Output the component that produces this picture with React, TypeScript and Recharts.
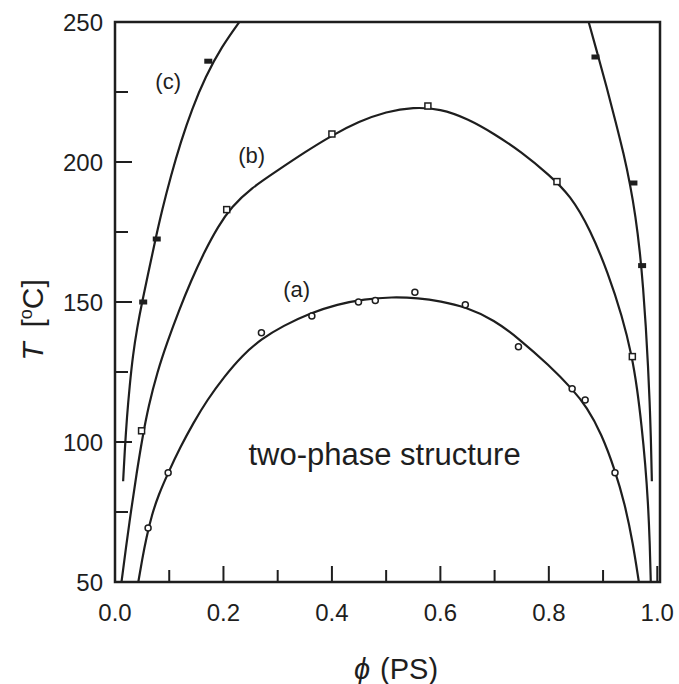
import React from 'react';
import { ComposedChart, Line, Scatter, XAxis, YAxis, ReferenceArea, ReferenceDot } from 'recharts';

// ---- axis ticks ----
const PHI_TICKS = [0, 0.1, 0.2, 0.3, 0.4, 0.5, 0.6, 0.7, 0.8, 0.9, 1.0];
const PHI_LABELED = [0, 0.2, 0.4, 0.6, 0.8, 1.0];
const T_TICKS = [50, 75, 100, 125, 150, 175, 200, 225, 250];
const T_LABELED = [50, 100, 150, 200, 250];

// ---- fitted curves [phi, T] ----
const CURVE_A: [number, number][] = [
  [0.043, 50], [0.05, 58], [0.058, 66], [0.068, 74], [0.08, 81], [0.098, 89], [0.12, 98],
  [0.145, 107], [0.17, 115], [0.2, 123], [0.235, 131], [0.27, 136.8], [0.31, 141.5],
  [0.36, 146], [0.41, 149.2], [0.46, 151], [0.51, 151.8], [0.56, 151.4], [0.6, 150.3],
  [0.646, 148.3], [0.7, 143.5], [0.744, 137], [0.8, 127.5], [0.843, 119], [0.87, 112.5],
  [0.897, 103], [0.922, 90], [0.94, 78], [0.955, 64], [0.966, 50],
];
const CURVE_B: [number, number][] = [
  [0.012, 50], [0.02, 62], [0.03, 76], [0.04, 89], [0.05, 101], [0.062, 113], [0.078, 125],
  [0.096, 135.5], [0.118, 147], [0.14, 157.5], [0.165, 168], [0.19, 177], [0.215, 184],
  [0.25, 190.5], [0.3, 197], [0.35, 203.5], [0.4, 209.5], [0.45, 214.5], [0.5, 218],
  [0.55, 219.6], [0.6, 219], [0.65, 215.5], [0.7, 210], [0.75, 203.5], [0.8, 195.5],
  [0.84, 188], [0.876, 176], [0.91, 160], [0.935, 145], [0.953, 131], [0.963, 119],
  [0.971, 106], [0.978, 92], [0.983, 78], [0.986, 65], [0.988, 50],
];
const CURVE_C_LEFT: [number, number][] = [
  [0.015, 86], [0.018, 97], [0.022, 109], [0.027, 120], [0.033, 131], [0.041, 141],
  [0.05, 150], [0.061, 160], [0.073, 171], [0.087, 183], [0.103, 195], [0.121, 207],
  [0.142, 219], [0.167, 230.5], [0.196, 241], [0.233, 251],
];
const CURVE_C_RIGHT: [number, number][] = [
  [0.872, 251], [0.89, 238.5], [0.907, 226.5], [0.923, 214.5], [0.938, 203], [0.95, 192],
  [0.96, 180.5], [0.968, 168], [0.974, 155], [0.979, 141], [0.983, 127], [0.986, 114],
  [0.988, 103], [0.99, 86],
];

// ---- measured points [phi, T] ----
const POINTS_A: [number, number][] = [
  [0.061, 69.3], [0.098, 89], [0.27, 139], [0.363, 145], [0.449, 150], [0.48, 150.5],
  [0.553, 153.5], [0.646, 149], [0.744, 134], [0.843, 119], [0.867, 115], [0.922, 89],
];
const POINTS_B: [number, number][] = [
  [0.049, 104], [0.206, 183], [0.4, 210], [0.577, 220], [0.815, 193], [0.954, 130.5],
];
const POINTS_C: [number, number][] = [
  [0.052, 150], [0.077, 172.5], [0.172, 236], [0.886, 237.5], [0.956, 192.5], [0.972, 163],
];

// ---- annotations ----
const ANNOTATIONS: { text: string; phi: number; T: number; size: number }[] = [
  { text: '(c)', phi: 0.098, T: 228.6, size: 22 },
  { text: '(b)', phi: 0.252, T: 202.5, size: 22 },
  { text: '(a)', phi: 0.335, T: 154.3, size: 22 },
  { text: 'two-phase structure', phi: 0.497, T: 95.5, size: 31 },
];

const toXY = (arr: [number, number][]) => arr.map(([x, y]) => ({ x, y }));

const INK = '#1e1e1e';
const FONT = '"Liberation Sans", Arial, Helvetica, sans-serif';

const isIn = (list: number[], v: number) => list.some((m) => Math.abs(m - v) < 1e-9);

const XTick = (props: any) => {
  const { x, y, payload } = props;
  const v = payload.value as number;
  const major = isIn(PHI_LABELED, v);
  return (
    <g>
      <line x1={x} x2={x} y1={y} y2={y - (major ? 16 : 12)} stroke={INK} strokeWidth={2} />
      {major && (
        <text x={x} y={y + 39} textAnchor="middle" fontSize={24} fill={INK} fontFamily={FONT}>
          {v.toFixed(1)}
        </text>
      )}
    </g>
  );
};

const YTick = (props: any) => {
  const { x, y, payload } = props;
  const v = payload.value as number;
  const major = isIn(T_LABELED, v);
  return (
    <g>
      <line x1={x} x2={x + (major ? 17 : 13)} y1={y} y2={y} stroke={INK} strokeWidth={2} />
      {major && (
        <text x={x - 12} y={y + 8.5} textAnchor="end" fontSize={24} fill={INK} fontFamily={FONT}>
          {v}
        </text>
      )}
    </g>
  );
};

const CircleMark = (p: any) => (
  <circle cx={p.cx} cy={p.cy} r={3} fill="#fff" stroke={INK} strokeWidth={1.5} />
);
const SquareMark = (p: any) => (
  <rect x={p.cx - 3} y={p.cy - 3} width={6} height={6} fill="#fff" stroke={INK} strokeWidth={1.5} />
);
const FilledMark = (p: any) => (
  <rect x={p.cx - 4} y={p.cy - 2.5} width={8} height={5} fill={INK} />
);

const AnnotLabel = (props: any) => {
  const { viewBox, text, size } = props;
  const cx = viewBox.x + viewBox.width / 2;
  const cy = viewBox.y + viewBox.height / 2;
  return (
    <text x={cx} y={cy} textAnchor="middle" dominantBaseline="central" fontSize={size} fill={INK} fontFamily={FONT}>
      {text}
    </text>
  );
};

const YTitle = () => (
  <text
    transform="translate(43,320) rotate(-90)"
    textAnchor="middle"
    fontSize={30}
    fill={INK}
    fontFamily={FONT}
  >
    <tspan fontStyle="italic">T</tspan>
    <tspan dx={15}>[</tspan>
    <tspan dy={-11} fontSize={18}>o</tspan>
    <tspan dy={11}>C]</tspan>
  </text>
);

const XTitle = () => (
  <text x={396} y={679} textAnchor="middle" fontSize={29} fill={INK} fontFamily={FONT}>
    <tspan fontStyle="italic">ϕ</tspan>
    <tspan dx={10}>(PS)</tspan>
  </text>
);

const lineProps = {
  dataKey: 'y',
  type: 'basis' as const,
  stroke: INK,
  strokeWidth: 2.2,
  dot: false,
  isAnimationActive: false,
};

export default function App() {
  return (
    <div style={{ position: 'absolute', left: 0, top: 0, width: 679, height: 684, background: '#fff' }}>
      <ComposedChart
        width={679}
        height={684}
        margin={{ top: 22, right: 19, bottom: 42, left: 55 }}
      >
        <XAxis
          type="number"
          dataKey="x"
          domain={[0, 1.005]}
          ticks={PHI_TICKS}
          interval={0}
          tickSize={0}
          tickMargin={0}
          axisLine={false}
          tick={<XTick />}
          height={60}
          allowDataOverflow
          label={<XTitle />}
        />
        <YAxis
          type="number"
          dataKey="y"
          domain={[50, 250]}
          ticks={T_TICKS}
          interval={0}
          tickSize={0}
          tickMargin={0}
          axisLine={false}
          tick={<YTick />}
          width={60}
          allowDataOverflow
          label={<YTitle />}
        />
        <ReferenceArea x1={0} x2={1.005} y1={50} y2={250} fill="none" stroke={INK} strokeWidth={2.5} />
        <Line data={toXY(CURVE_A)} {...lineProps} />
        <Line data={toXY(CURVE_B)} {...lineProps} />
        <Line data={toXY(CURVE_C_LEFT)} {...lineProps} />
        <Line data={toXY(CURVE_C_RIGHT)} {...lineProps} />
        <Scatter data={toXY(POINTS_A)} dataKey="y" shape={<CircleMark />} isAnimationActive={false} />
        <Scatter data={toXY(POINTS_B)} dataKey="y" shape={<SquareMark />} isAnimationActive={false} />
        <Scatter data={toXY(POINTS_C)} dataKey="y" shape={<FilledMark />} isAnimationActive={false} />
        {ANNOTATIONS.map((a) => (
          <ReferenceDot
            key={a.text}
            x={a.phi}
            y={a.T}
            r={1}
            fill="none"
            stroke="none"
            label={<AnnotLabel text={a.text} size={a.size} />}
          />
        ))}
      </ComposedChart>
    </div>
  );
}
